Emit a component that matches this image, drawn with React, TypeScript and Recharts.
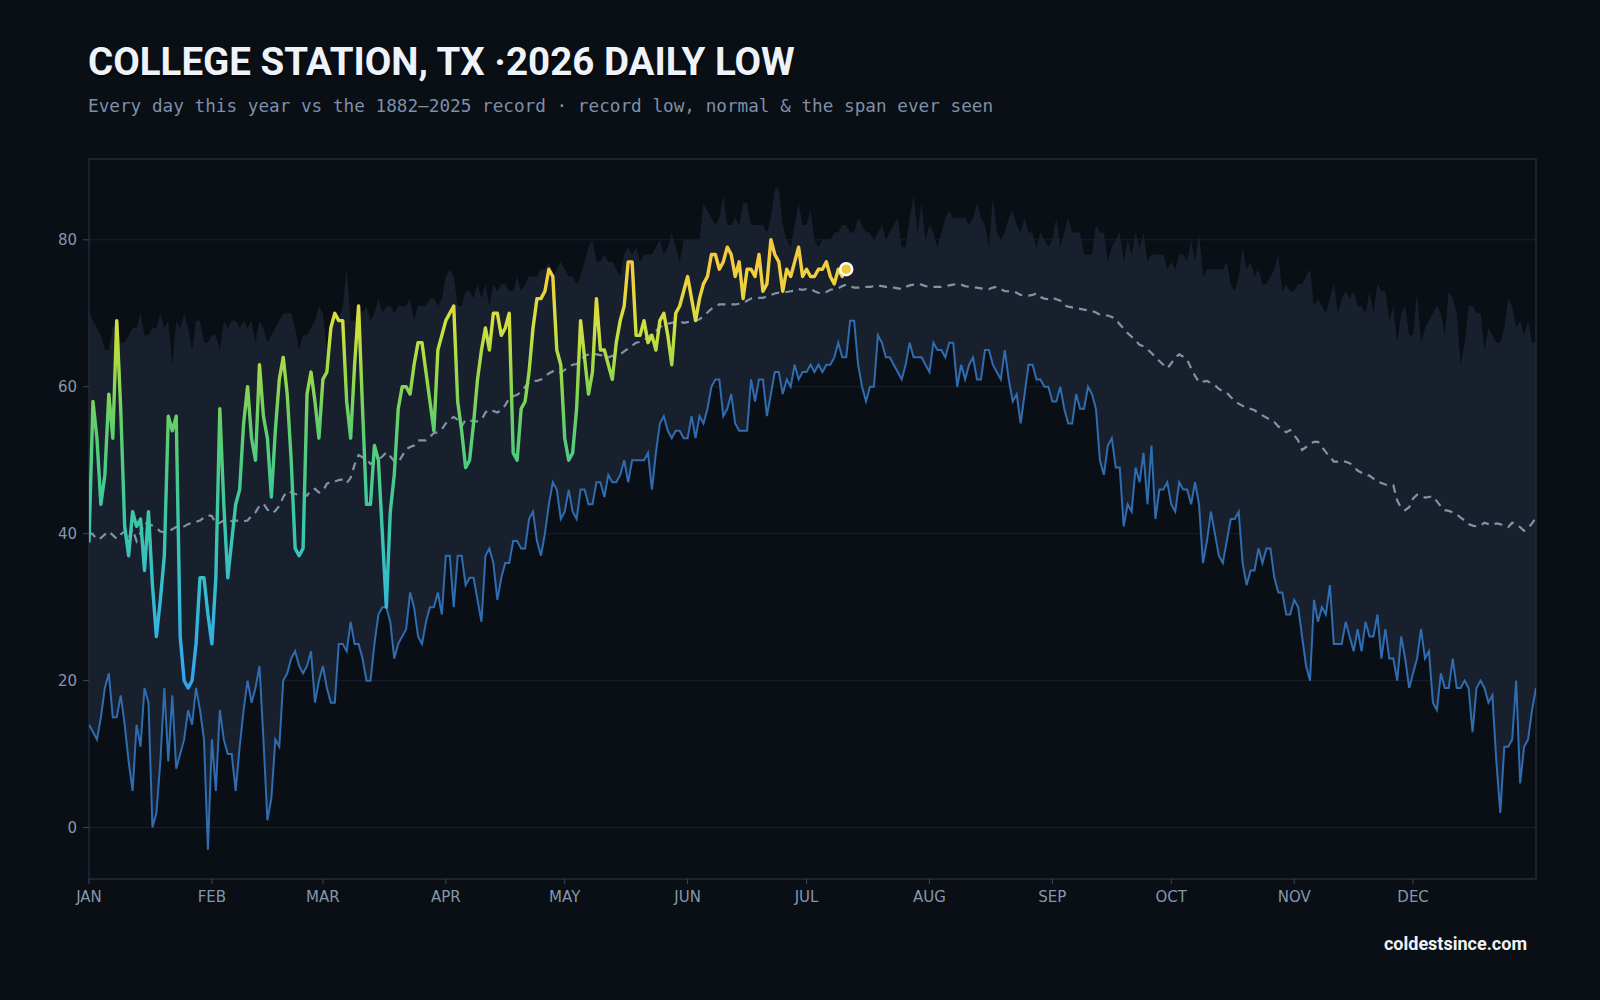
import React from 'react';
import {
  ComposedChart, Area, Line, XAxis, YAxis, CartesianGrid, ReferenceArea, ReferenceDot,
} from 'recharts';

const MONTHS = ['JAN', 'FEB', 'MAR', 'APR', 'MAY', 'JUN', 'JUL', 'AUG', 'SEP', 'OCT', 'NOV', 'DEC'];
const MONTH_STARTS = [0, 31, 59, 90, 120, 151, 181, 212, 243, 273, 304, 334];
const Y_TICKS = [0, 20, 40, 60, 80];

// record low for each day of the year, 1882-2025 (°F)
const RECORD_LOW = [
  14, 13, 12, 15, 19, 21, 15, 15, 18, 14,
  9, 5, 14, 11, 19, 17, 0, 2, 9, 19,
  9, 18, 8, 10, 12, 16, 14, 19, 16, 12,
  -3, 12, 5, 16, 12, 10, 10, 5, 11, 16,
  20, 17, 19, 22, 12, 1, 4, 12, 11, 20,
  21, 23, 24, 22, 21, 22, 24, 17, 20, 22,
  19, 17, 17, 25, 25, 24, 28, 25, 25, 23,
  20, 20, 25, 29, 30, 30, 28, 23, 25, 26,
  27, 32, 30, 26, 25, 28, 30, 30, 32, 29,
  37, 37, 30, 37, 37, 33, 34, 34, 31, 28,
  37, 38, 36, 31, 34, 36, 36, 39, 39, 38,
  38, 42, 43, 39, 37, 40, 44, 47, 46, 42,
  43, 46, 43, 42, 46, 46, 44, 44, 47, 47,
  45, 48, 47, 47, 48, 50, 47, 50, 50, 50,
  50, 51, 46, 51, 55, 56, 54, 53, 54, 54,
  53, 53, 56, 53, 56, 55, 57, 60, 61, 61,
  56, 57, 59, 55, 54, 54, 54, 61, 58, 61,
  61, 56, 59, 62, 62, 59, 61, 60, 63, 61,
  62, 62, 63, 62, 63, 62, 63, 63, 64, 66,
  64, 64, 69, 69, 63, 60, 58, 60, 60, 67,
  66, 64, 64, 63, 62, 61, 63, 66, 64, 64,
  64, 63, 62, 66, 65, 65, 64, 66, 66, 60,
  63, 61, 63, 64, 61, 61, 65, 65, 63, 62,
  61, 65, 61, 58, 59, 55, 59, 63, 63, 61,
  61, 60, 60, 58, 58, 60, 57, 55, 55, 59,
  57, 57, 60, 59, 57, 50, 48, 52, 53, 49,
  49, 41, 44, 43, 49, 47, 51, 44, 52, 42,
  46, 46, 47, 44, 43, 47, 46, 46, 44, 47,
  44, 36, 39, 43, 40, 37, 36, 39, 42, 42,
  43, 36, 33, 35, 35, 38, 36, 38, 38, 34,
  32, 32, 29, 29, 31, 30, 26, 22, 20, 31,
  28, 30, 29, 33, 25, 25, 25, 28, 26, 24,
  27, 24, 28, 26, 26, 29, 23, 27, 23, 23,
  20, 26, 23, 19, 21, 23, 27, 23, 24, 17,
  16, 21, 19, 19, 23, 19, 19, 20, 19, 13,
  19, 20, 19, 17, 18, 9, 2, 11, 11, 12,
  20, 6, 11, 12, 16, 19,
];

// warmest low ever seen on each day (top of the span)
const SPAN_TOP = [
  70, 69, 68, 67, 65, 65, 68, 69, 66, 66,
  67, 68, 68, 70, 67, 67, 68, 68, 70, 68,
  69, 63, 69, 68, 70, 68, 65, 69, 69, 66,
  66, 67, 67, 65, 69, 68, 69, 69, 68, 69,
  68, 69, 66, 69, 68, 66, 67, 68, 69, 70,
  70, 70, 68, 65, 67, 67, 68, 69, 71, 70,
  65, 69, 70, 69, 71, 76, 69, 69, 71, 70,
  71, 69, 70, 72, 70, 71, 71, 70, 71, 71,
  71, 72, 69, 71, 71, 71, 72, 72, 71, 72,
  75, 76, 75, 71, 71, 73, 73, 72, 74, 72,
  74, 71, 74, 73, 74, 74, 73, 73, 75, 73,
  74, 75, 75, 75, 76, 76, 77, 75, 76, 77,
  76, 75, 75, 74, 75, 77, 79, 80, 77, 77,
  78, 77, 77, 76, 75, 78, 79, 78, 79, 77,
  78, 78, 78, 79, 80, 78, 79, 81, 79, 77,
  80, 80, 80, 80, 80, 85, 84, 83, 82, 83,
  86, 82, 82, 83, 82, 85, 85, 82, 82, 82,
  82, 81, 83, 87, 87, 82, 80, 79, 82, 85,
  82, 82, 84, 80, 79, 80, 80, 80, 81, 81,
  82, 82, 81, 81, 83, 82, 81, 81, 80, 81,
  82, 80, 81, 82, 83, 79, 79, 83, 86, 81,
  85, 80, 82, 81, 79, 81, 83, 84, 83, 83,
  83, 83, 82, 83, 85, 83, 82, 79, 86, 81,
  80, 81, 83, 84, 82, 81, 83, 81, 81, 79,
  81, 80, 79, 80, 83, 79, 81, 83, 81, 81,
  81, 78, 78, 78, 82, 81, 81, 77, 79, 80,
  81, 77, 80, 78, 81, 79, 81, 77, 78, 78,
  78, 78, 76, 77, 76, 78, 78, 77, 80, 77,
  81, 75, 76, 76, 76, 76, 76, 77, 74, 73,
  75, 79, 76, 77, 75, 76, 74, 74, 75, 76,
  78, 73, 74, 73, 73, 74, 74, 75, 76, 71,
  72, 71, 70, 72, 74, 70, 72, 73, 72, 73,
  71, 71, 70, 73, 70, 74, 73, 73, 69, 71,
  66, 70, 71, 67, 67, 73, 66, 68, 69, 70,
  71, 70, 67, 73, 72, 70, 63, 66, 71, 71,
  70, 70, 65, 68, 67, 66, 66, 68, 72, 71,
  68, 69, 67, 69, 66, 66,
];

// normal daily low
const NORMAL_LOW = [
  40.2, 39.9, 39.2, 39.4, 39.9, 40.3, 39.8, 39.3, 39.9, 40.3,
  39.4, 40.6, 39.0, 40.1, 41.5, 41.3, 41.1, 40.8, 40.3, 40.2,
  40.3, 40.6, 40.9, 41.1, 41.0, 41.3, 41.5, 41.6, 41.8, 42.2,
  42.5, 42.4, 41.3, 41.5, 41.8, 41.9, 41.7, 41.8, 41.7, 41.7,
  41.8, 42.4, 42.9, 43.8, 44.1, 43.3, 42.8, 43.1, 43.8, 45.0,
  45.8, 45.6, 45.4, 45.3, 45.5, 45.2, 45.9, 46.1, 45.6, 45.8,
  46.8, 47.1, 47.1, 47.3, 47.4, 46.9, 47.6, 49.4, 50.7, 50.4,
  50.1, 49.5, 49.8, 50.1, 50.5, 51.1, 50.5, 49.9, 49.7, 50.6,
  51.5, 51.8, 52.0, 52.7, 52.7, 52.7, 53.2, 53.7, 53.8, 54.2,
  55.0, 55.5, 55.9, 55.5, 54.6, 55.5, 55.4, 55.3, 55.3, 55.5,
  56.5, 56.9, 56.7, 56.5, 56.8, 57.5, 58.4, 58.7, 58.9, 59.3,
  60.0, 60.6, 60.8, 60.8, 61.0, 61.4, 61.8, 62.1, 62.2, 61.9,
  62.3, 62.7, 63.0, 63.1, 63.6, 64.2, 64.4, 64.6, 64.4, 64.3,
  64.2, 64.0, 64.2, 64.2, 64.4, 64.8, 65.2, 65.6, 66.0, 66.1,
  66.3, 66.8, 67.2, 67.6, 68.1, 68.5, 68.6, 68.7, 68.8, 68.9,
  68.7, 68.8, 68.9, 69.0, 69.2, 69.6, 70.1, 70.6, 71.0, 71.2,
  71.2, 71.2, 71.2, 71.2, 71.3, 71.4, 71.7, 72.0, 72.1, 72.1,
  72.1, 72.3, 72.5, 72.7, 72.8, 72.8, 72.9, 73.0, 73.1, 73.3,
  73.2, 73.3, 73.3, 73.0, 72.8, 72.7, 72.9, 73.2, 73.3, 73.4,
  73.7, 73.9, 73.7, 73.5, 73.5, 73.5, 73.6, 73.6, 73.7, 73.8,
  73.7, 73.6, 73.6, 73.5, 73.4, 73.3, 73.6, 73.8, 73.9, 74.0,
  73.9, 73.7, 73.6, 73.6, 73.6, 73.6, 73.7, 73.8, 73.9, 74.0,
  73.9, 73.7, 73.6, 73.5, 73.5, 73.4, 73.3, 73.3, 73.5, 73.6,
  73.3, 73.0, 73.0, 73.0, 72.8, 72.5, 72.4, 72.4, 72.5, 72.7,
  72.2, 72.0, 71.9, 72.1, 71.9, 71.7, 71.1, 70.9, 70.8, 70.7,
  70.6, 70.5, 70.4, 70.3, 70.1, 69.8, 69.7, 69.7, 69.5, 69.2,
  68.5, 67.9, 67.3, 66.8, 66.3, 65.7, 65.5, 65.1, 64.6, 64.0,
  63.5, 63.0, 62.5, 63.2, 64.0, 64.4, 64.1, 63.7, 62.5, 61.5,
  60.6, 60.7, 60.8, 60.5, 60.2, 59.7, 59.4, 59.2, 58.6, 58.1,
  57.7, 57.4, 57.1, 57.0, 56.8, 56.4, 56.1, 55.8, 55.5, 55.2,
  54.6, 54.2, 53.8, 54.1, 53.4, 52.7, 51.4, 51.8, 52.2, 52.5,
  52.5, 51.8, 51.1, 50.5, 49.8, 49.8, 49.9, 49.8, 49.6, 49.2,
  48.6, 48.3, 48.0, 47.9, 47.5, 47.1, 46.9, 46.7, 46.6, 46.6,
  44.5, 43.5, 43.2, 43.6, 44.8, 45.3, 45.2, 44.9, 45.0, 45.1,
  44.4, 43.7, 43.2, 43.1, 42.9, 42.6, 42.2, 41.8, 41.3, 41.1,
  41.0, 41.1, 41.5, 41.3, 41.2, 41.4, 41.3, 41.0, 40.9, 41.5,
  41.2, 40.9, 40.4, 40.8, 41.4, 42.2,
];

// 2026 daily lows so far
const LOWS_2026 = [
  39, 58, 53, 44, 48, 59, 53, 69, 57, 41,
  37, 43, 41, 42, 35, 43, 33, 26, 31, 37,
  56, 54, 56, 26, 20, 19, 20, 25, 34, 34,
  29, 25, 34, 57, 44, 34, 39, 44, 46, 55,
  60, 53, 50, 63, 56, 53, 45, 54, 61, 64,
  59, 50, 38, 37, 38, 59, 62, 58, 53, 61,
  62, 68, 70, 69, 69, 58, 53, 63, 71, 57,
  44, 44, 52, 50, 40, 30, 43, 48, 57, 60,
  60, 59, 63, 66, 66, 62, 58, 54, 65, 67,
  69, 70, 71, 58, 54, 49, 50, 55, 61, 65,
  68, 65, 70, 70, 67, 68, 70, 51, 50, 57,
  58, 62, 68, 72, 72, 73, 76, 75, 65, 63,
  53, 50, 51, 57, 69, 64, 59, 62, 72, 65,
  65, 63, 61, 66, 69, 71, 77, 77, 67, 67,
  69, 66, 67, 65, 69, 70, 67, 63, 70, 71,
  73, 75, 72, 69, 72, 74, 75, 78, 78, 76,
  77, 79, 78, 75, 77, 72, 76, 76, 75, 78,
  73, 74, 80, 78, 77, 73, 76, 75, 77, 79,
  75, 76, 75, 75, 76, 76, 77, 75, 74, 76,
  75, 76,
];

// colour ramp for the 2026 line, by temperature
const RAMP: [number, string][] = [
  [80, '#f6c73f'], [74, '#efd23d'], [68, '#cfe040'], [62, '#9bd948'],
  [55, '#62cf6c'], [47, '#45ca8e'], [40, '#3ac5b0'], [32, '#35bcd0'],
  [24, '#33ade6'], [18, '#31a3ea'],
];

const BG = '#0a0e15';
const tickStyle = { fill: '#8596ad', fontSize: 15, fontFamily: 'DejaVu Sans' };

const data = RECORD_LOW.map((low, i) => ({
  day: i,
  low,
  span: [low, SPAN_TOP[i]],
  normal: NORMAL_LOW[i],
  y2026: i < LOWS_2026.length ? LOWS_2026[i] : null,
}));

const lastDay = LOWS_2026.length - 1;
const hi = Math.max(...LOWS_2026);
const lo = Math.min(...LOWS_2026);
const stopOffset = (v: number) => Math.min(1, Math.max(0, (hi - v) / (hi - lo)));

export default function App() {
  return (
    <div style={{ position: 'relative', width: 1600, height: 1000, background: BG }}>
      <style>{`body{margin:0;background:${BG};}`}</style>
      <ComposedChart
        width={1600}
        height={1000}
        data={data}
        margin={{ top: 159, right: 64, bottom: 91, left: 29 }}
      >
        <defs>
          <linearGradient id="ramp2026" x1="0" y1="0" x2="0" y2="1">
            {RAMP.map(([v, c]) => (
              <stop key={v} offset={stopOffset(v)} stopColor={c} />
            ))}
          </linearGradient>
        </defs>
        <CartesianGrid vertical={false} stroke="#182232" strokeWidth={1} />
        <XAxis
          type="number"
          dataKey="day"
          domain={[0, 365]}
          ticks={MONTH_STARTS}
          interval={0}
          tickFormatter={(d: number) => MONTHS[MONTH_STARTS.indexOf(d)]}
          axisLine={false}
          tickLine={{ stroke: '#3a495c' }}
          tickSize={5}
          tickMargin={7}
          tick={tickStyle}
          height={30}
          allowDataOverflow
        />
        <YAxis
          type="number"
          domain={[-7, 91]}
          ticks={Y_TICKS}
          interval={0}
          axisLine={false}
          tickLine={{ stroke: '#3a495c' }}
          tickSize={6}
          tickMargin={6}
          tick={tickStyle}
          width={60}
          allowDataOverflow
        />
        <Area
          type="linear"
          dataKey="span"
          stroke="none"
          fill="#17202c"
          fillOpacity={1}
          isAnimationActive={false}
        />
        <Line
          type="linear"
          dataKey="low"
          stroke="#2f6cb0"
          strokeWidth={2}
          dot={false}
          isAnimationActive={false}
        />
        <Line
          type="linear"
          dataKey="normal"
          stroke="#8293a9"
          strokeWidth={2.2}
          strokeDasharray="8 6"
          dot={false}
          isAnimationActive={false}
        />
        <Line
          type="linear"
          dataKey="y2026"
          stroke="url(#ramp2026)"
          strokeWidth={3.4}
          strokeLinejoin="round"
          strokeLinecap="round"
          dot={false}
          connectNulls={false}
          isAnimationActive={false}
        />
        <ReferenceArea
          x1={0}
          x2={365}
          y1={-7}
          y2={91}
          fill="none"
          stroke="#1e2a3a"
          strokeWidth={1.5}
          ifOverflow="visible"
        />
        <ReferenceDot
          x={lastDay}
          y={LOWS_2026[lastDay]}
          r={6}
          fill="#f0c63c"
          stroke="#ffffff"
          strokeWidth={2.5}
          ifOverflow="visible"
        />
      </ComposedChart>
      <svg
        width={1600}
        height={1000}
        style={{ position: 'absolute', left: 0, top: 0, pointerEvents: 'none' }}
      >
        <text
          x={88}
          y={75}
          fill="#eef3fa"
          fontFamily="Roboto"
          fontWeight={700}
          fontSize={38.5}
          style={{ textShadow: '0 2px 2px rgba(0,0,0,0.6)' }}
        >
          COLLEGE STATION, TX ·2026 DAILY LOW
        </text>
        <text x={88} y={112} fill="#7d90a8" fontFamily="DejaVu Sans Mono" fontSize={17.7}>
          Every day this year vs the 1882–2025 record · record low, normal &amp; the span ever seen
        </text>
        <text
          x={1527}
          y={950}
          textAnchor="end"
          fill="#eef2f7"
          fontFamily="Roboto"
          fontWeight={700}
          fontSize={18}
        >
          coldestsince.com
        </text>
      </svg>
    </div>
  );
}
